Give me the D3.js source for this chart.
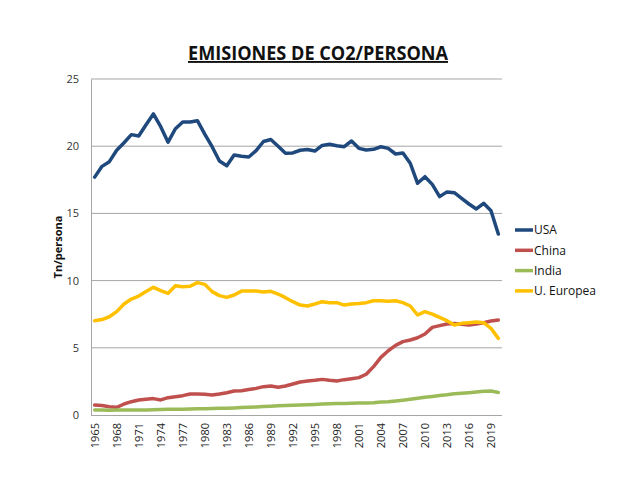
<!DOCTYPE html>
<html><head><meta charset="utf-8">
<script src="https://cdn.jsdelivr.net/npm/d3@7"></script>
<style>body{margin:0;background:#fff}svg{display:block}</style>
</head><body>
<svg id="c" width="636" height="477"></svg>
<script>
const years = d3.range(1965, 2021);
const usa = [17.7,18.5,18.85,19.7,20.26,20.86,20.76,21.6,22.4,21.45,20.3,21.3,21.8,21.8,21.9,20.9,19.96,18.9,18.55,19.35,19.25,19.2,19.67,20.35,20.5,20.0,19.47,19.5,19.7,19.76,19.64,20.06,20.14,20.04,19.96,20.39,19.84,19.72,19.77,19.96,19.84,19.42,19.5,18.73,17.24,17.73,17.16,16.25,16.6,16.54,16.12,15.7,15.33,15.75,15.2,13.47];
const china = [0.74,0.71,0.62,0.57,0.82,0.99,1.12,1.17,1.22,1.12,1.29,1.36,1.44,1.56,1.56,1.54,1.49,1.56,1.66,1.79,1.81,1.89,1.98,2.11,2.16,2.06,2.16,2.31,2.46,2.53,2.58,2.65,2.58,2.53,2.63,2.7,2.78,3.03,3.6,4.29,4.78,5.18,5.46,5.58,5.75,6.03,6.52,6.65,6.77,6.8,6.75,6.7,6.77,6.87,6.99,7.07];
const india = [0.37,0.37,0.36,0.37,0.37,0.38,0.38,0.38,0.39,0.4,0.42,0.43,0.43,0.44,0.46,0.47,0.48,0.5,0.51,0.53,0.55,0.58,0.6,0.63,0.66,0.68,0.7,0.72,0.74,0.76,0.79,0.81,0.83,0.85,0.86,0.88,0.89,0.9,0.92,0.96,0.99,1.04,1.1,1.17,1.25,1.32,1.38,1.45,1.5,1.58,1.62,1.66,1.71,1.77,1.79,1.68];
const eu = [7.02,7.1,7.31,7.69,8.26,8.63,8.85,9.18,9.5,9.25,9.05,9.62,9.55,9.58,9.85,9.72,9.18,8.88,8.75,8.93,9.22,9.22,9.22,9.15,9.2,9.0,8.73,8.43,8.18,8.11,8.26,8.43,8.36,8.36,8.18,8.26,8.3,8.36,8.5,8.5,8.47,8.5,8.36,8.11,7.44,7.69,7.51,7.27,7.02,6.7,6.82,6.87,6.92,6.87,6.45,5.7];
const seriesNames = ["USA","China","India","U. Europea"];
const seriesColors = ["#1F497D","#C0504D","#9BBB59","#FFC000"];
const yTicks = [0,5,10,15,20,25];
const xTickYears = d3.range(1965, 2021, 3);

const series = [usa, china, india, eu].map((v,i)=>({name:seriesNames[i], color:seriesColors[i], values:v}));
const svg = d3.select("#c");
const L=91, R=502, T=79, B=415;
const x = d3.scaleBand().domain(years).range([L,R]);
const xc = yr => x(yr) + x.bandwidth()/2;
const y = d3.scaleLinear().domain([0,25]).range([B,T]);

// gridlines
svg.append("g").selectAll("line").data(yTicks.filter(d=>d>0)).join("line")
  .attr("x1",L).attr("x2",R).attr("y1",d=>y(d)).attr("y2",d=>y(d))
  .attr("stroke","#A6A6A6").attr("stroke-width",1);

// y axis
const ya = svg.append("g").attr("transform",`translate(${L},0)`)
  .call(d3.axisLeft(y).tickValues(yTicks).tickSize(0).tickPadding(12));
ya.select(".domain").attr("stroke","#A6A6A6");
ya.selectAll("text").attr("font-family","'Open Sans',sans-serif").attr("font-size",11).attr("fill","#333");

// x axis
const xa = svg.append("g").attr("transform",`translate(0,${B})`)
  .call(d3.axisBottom(x).tickValues(xTickYears).tickSize(0).tickPadding(0));
xa.select(".domain").attr("stroke","#A6A6A6").attr("d",`M${L},0.5H${R}`);
xa.selectAll("text").attr("font-family","'Open Sans',sans-serif").attr("font-size",11).attr("fill","#222")
  .attr("transform","rotate(-90)").attr("text-anchor","end").attr("x",-8).attr("y",0).attr("dy","0.35em");

// lines
const line = d3.line().x((d,i)=>xc(years[i])).y(d=>y(d)).curve(d3.curveLinear);
svg.append("g").selectAll("path").data(series).join("path")
  .attr("d",d=>line(d.values)).attr("fill","none").attr("stroke",d=>d.color)
  .attr("stroke-width",3.5).attr("stroke-linejoin","round").attr("stroke-linecap","round");

// title
svg.append("text").attr("x",318).attr("y",60).attr("text-anchor","middle")
  .attr("font-family","'Open Sans',sans-serif").attr("font-weight","bold").attr("font-size",19)
  .attr("text-decoration","underline").attr("fill","#111").attr("textLength",260).attr("lengthAdjust","spacingAndGlyphs")
  .text("EMISIONES DE CO2/PERSONA");

// y title
svg.append("text").attr("transform","translate(62,247) rotate(-90)").attr("text-anchor","middle")
  .attr("font-family","'Open Sans',sans-serif").attr("font-weight","bold").attr("font-size",11).attr("fill","#111")
  .text("Tn/persona");

// legend
const lg = svg.append("g").selectAll("g").data(series).join("g")
  .attr("transform",(d,i)=>`translate(515,${230+i*20.3})`);
lg.append("line").attr("x1",0).attr("x2",18).attr("stroke",d=>d.color).attr("stroke-width",3.5);
lg.append("text").attr("x",19).attr("dy","0.35em").attr("font-family","'Open Sans',sans-serif")
  .attr("font-size",12).attr("fill","#111").text(d=>d.name);
</script>
</body></html>
